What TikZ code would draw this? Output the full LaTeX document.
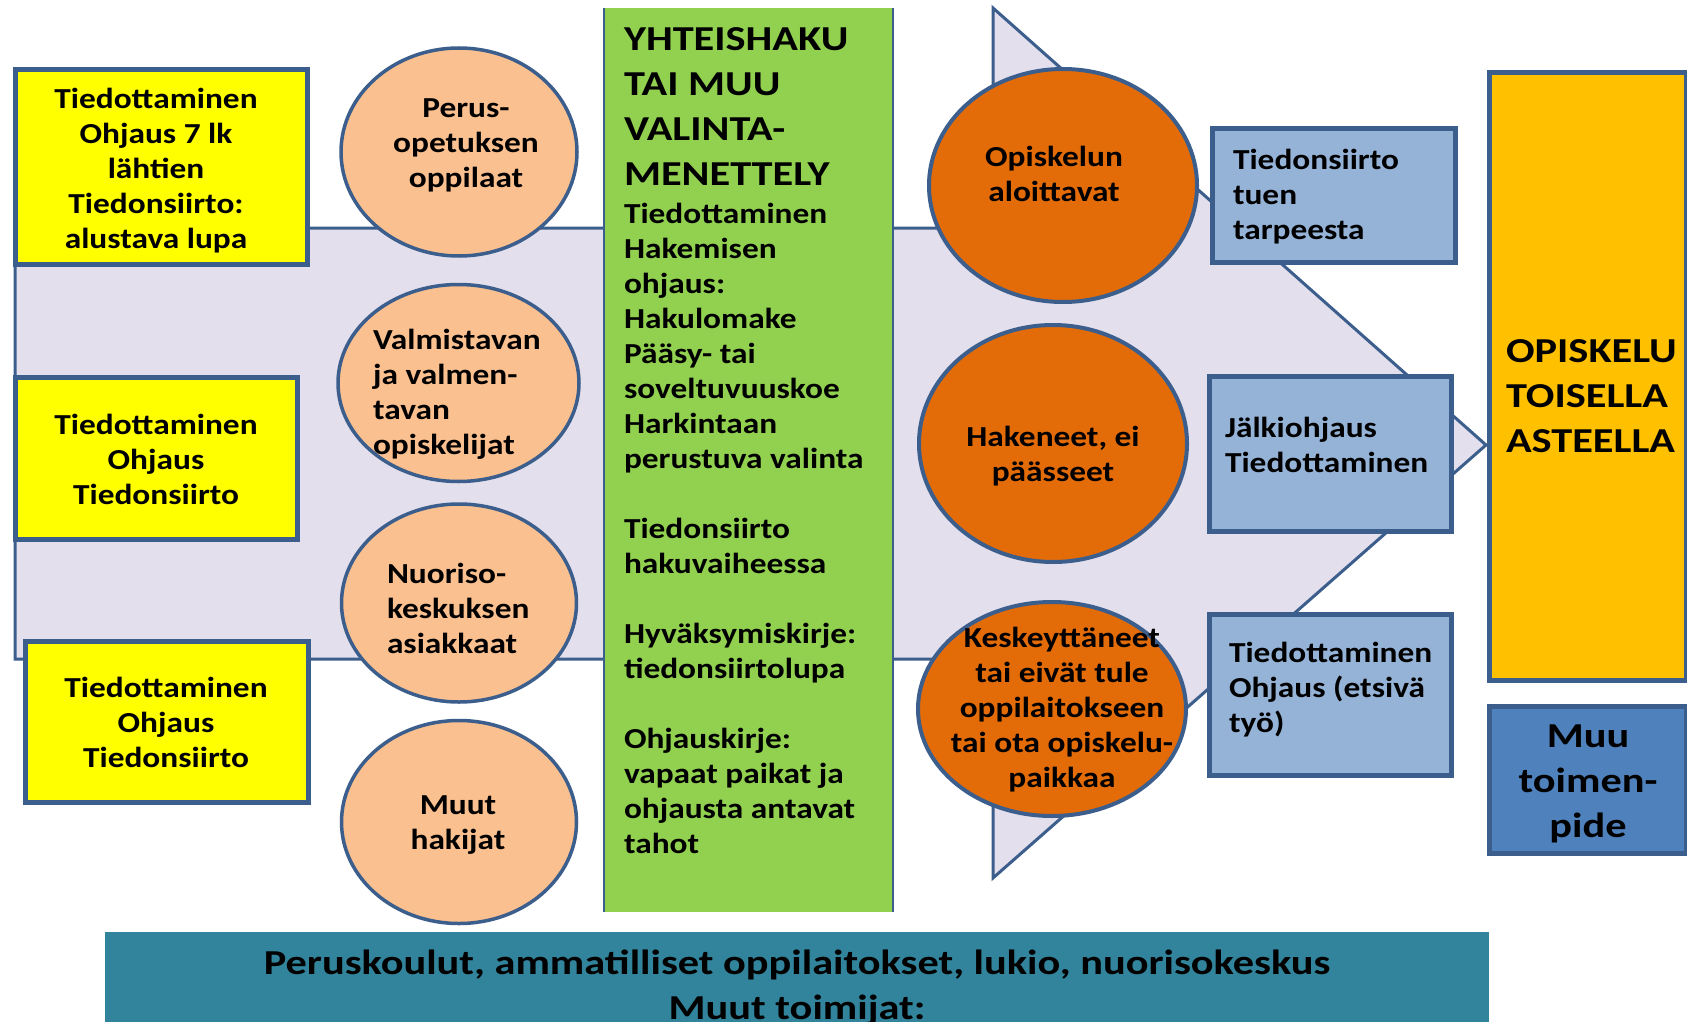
\documentclass[tikz,border=0pt]{standalone}
\usepackage{fontspec}
\setmainfont{Carlito}[FakeStretch=1.15]
\newfontfamily\bigfont{Carlito}[FakeStretch=1.21]
\usetikzlibrary{shapes.geometric}
\definecolor{bord}{HTML}{3C5E8C}
\definecolor{lav}{HTML}{E4DFEC}
\definecolor{yel}{HTML}{FFFF00}
\definecolor{peach}{HTML}{FAC090}
\definecolor{grn}{HTML}{92D050}
\definecolor{oran}{HTML}{E36C09}
\definecolor{lblue}{HTML}{95B3D7}
\definecolor{gold}{HTML}{FFC000}
\definecolor{mblue}{HTML}{4F81BD}
\definecolor{teal}{HTML}{31849B}
\begin{document}
\begin{tikzpicture}[x=1pt,y=-1pt,
  every node/.style={inner sep=0pt, outer sep=0pt},
  ybox/.style={rectangle, draw=bord, fill=yel, line width=5.5pt},
  pcirc/.style={ellipse, draw=bord, fill=peach, line width=3.5pt},
  ocirc/.style={ellipse, draw=bord, fill=oran, line width=4pt},
  bbox/.style={rectangle, draw=bord, fill=lblue, line width=5pt},
  body/.style={font=\fontsize{29}{35}\selectfont\bfseries},
  big/.style={font=\bigfont\fontsize{35}{44.8}\selectfont\bfseries},
  arrowbody/.style={draw=bord, fill=lav, line width=3pt, line join=miter}
]
\useasboundingbox (0,0) rectangle (1687,1022);
\clip (0,0) rectangle (1687,1022);
\fill[white] (0,0) rectangle (1687,1022);

% big arrow
\draw[arrowbody] (15,228) -- (993,228) -- (993,8) -- (1486,445) -- (993,878) -- (993,659) -- (15,659) -- cycle;

% yellow boxes
\node[ybox, minimum width=292pt, minimum height=195pt] (y1) at (161.5,167) {};
\node[ybox, minimum width=282pt, minimum height=162pt] (y2) at (156.5,458.5) {};
\node[ybox, minimum width=283pt, minimum height=161pt] (y3) at (167,722) {};
\node[body, align=center] (y1t) at (156,171) {\strut Tiedottaminen\\Ohjaus 7 lk\\lähtien\\Tiedonsiirto:\\alustava lupa\strut};
\node[body, align=center] (y2t) at (156,462) {\strut Tiedottaminen\\Ohjaus\\Tiedonsiirto\strut};
\node[body, align=center] (y3t) at (166,725) {\strut Tiedottaminen\\Ohjaus\\Tiedonsiirto\strut};

% peach circles
\node[pcirc, minimum width=236pt, minimum height=208pt] (c1) at (459,152) {};
\node[pcirc, minimum width=241pt, minimum height=197pt] (c2) at (458.5,383) {};
\node[pcirc, minimum width=235pt, minimum height=198pt] (c3) at (459,603) {};
\node[pcirc, minimum width=235pt, minimum height=203pt] (c4) at (459,822) {};
\node[body, align=center] (c1t) at (466,145) {\strut Perus-\\opetuksen\\oppilaat\strut};
\node[body, align=left, anchor=west] (c2t) at (373,395) {\strut Valmistavan\\ja valmen-\\tavan\\opiskelijat\strut};
\node[body, align=left, anchor=west] (c3t) at (387,611) {\strut Nuoriso-\\keskuksen\\asiakkaat\strut};
\node[body, align=center] (c4t) at (458,825) {\strut Muut\\hakijat\strut};

% green box
\node[fill=grn, minimum width=289pt, minimum height=904pt] (g) at (748.5,460) {};
\draw[bord, line width=1.5pt] (g.north west) -- (g.south west);
\draw[bord, line width=1.5pt] (g.north east) -- (g.south east);
\node[big, align=left, anchor=west] (gh) at (624,109) {\strut YHTEISHAKU\\TAI MUU\\VALINTA-\\MENETTELY\strut};
\node[body, align=left, anchor=west] (gb) at (624,531) {\strut Tiedottaminen\\Hakemisen\\ohjaus:\\Hakulomake\\Pääsy- tai\\soveltuvuuskoe\\Harkintaan\\perustuva valinta\\[35pt]Tiedonsiirto\\hakuvaiheessa\\[35pt]Hyväksymiskirje:\\tiedonsiirtolupa\\[35pt]Ohjauskirje:\\vapaat paikat ja\\ohjausta antavat\\tahot\strut};

% orange circles
\node[ocirc, minimum width=268pt, minimum height=233pt] (o1) at (1063,185.5) {};
\node[ocirc, minimum width=268pt, minimum height=237pt] (o2) at (1053,443.5) {};
\node[ocirc, minimum width=268pt, minimum height=214pt] (o3) at (1052,709) {};
\node[body, align=center] (o1t) at (1054,177) {\strut Opiskelun\\aloittavat\strut};
\node[body, align=center] (o2t) at (1053,457) {\strut Hakeneet, ei\\päässeet\strut};
\node[body, align=center] (o3t) at (1062,710) {\strut Keskeyttäneet\\tai eivät tule\\oppilaitokseen\\tai ota opiskelu-\\paikkaa\strut};

% light blue boxes
\node[bbox, minimum width=243pt, minimum height=134pt] (b1) at (1334,195.5) {};
\node[bbox, minimum width=242pt, minimum height=155pt] (b2) at (1330.5,454) {};
\node[bbox, minimum width=242pt, minimum height=161pt] (b3) at (1330.5,695) {};
\node[body, align=left, anchor=west] (b1t) at (1233,197) {\strut Tiedonsiirto\\tuen\\tarpeesta\strut};
\node[body, align=left, anchor=west] (b2t) at (1225,448) {\strut Jälkiohjaus\\Tiedottaminen\strut};
\node[body, align=left, anchor=west] (b3t) at (1229,690) {\strut Tiedottaminen\\Ohjaus (etsivä\\työ)\strut};

% right boxes
\node[rectangle, draw=bord, fill=gold, line width=5pt, minimum width=196.5pt, minimum height=608pt] (op) at (1587.75,376.5) {};
\node[big, align=left, anchor=west] (opt) at (1506,398.5) {\strut OPISKELU\\TOISELLA\\ASTEELLA\strut};
\node[rectangle, draw=bord, fill=mblue, line width=5pt, minimum width=196.5pt, minimum height=147pt] (mu) at (1587.75,780) {};
\node[font=\bigfont\fontsize{35}{45}\selectfont\bfseries, align=center] (mut) at (1588,783) {\strut Muu\\toimen-\\pide\strut};

% bottom teal bar
\node[fill=teal, minimum width=1384pt, minimum height=120pt, anchor=north west] (tb) at (105,932) {};
\node[font=\bigfont\fontsize{35}{45}\selectfont\bfseries, align=center] (tbt) at (797,988) {\strut Peruskoulut, ammatilliset oppilaitokset, lukio, nuorisokeskus\\Muut toimijat:\strut};
\end{tikzpicture}
\end{document}
